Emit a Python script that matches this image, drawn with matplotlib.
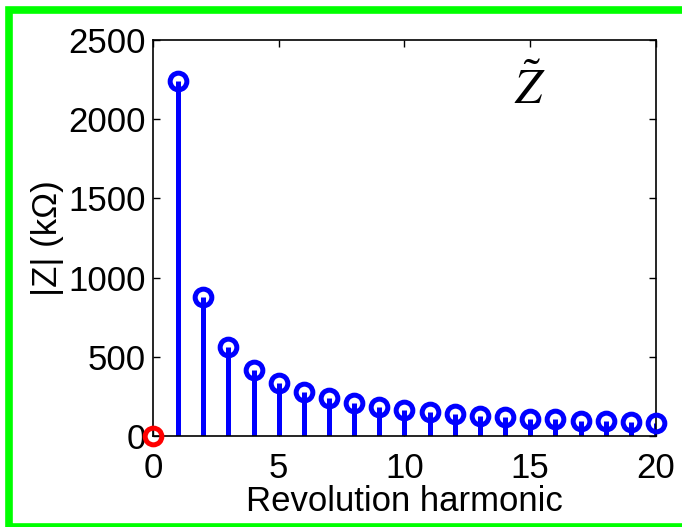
import matplotlib
matplotlib.use('Agg')
import matplotlib.pyplot as plt
from matplotlib.patches import Rectangle

plt.rcParams['font.family'] = ['Liberation Sans', 'DejaVu Sans']
plt.rcParams['mathtext.fontset'] = 'stix'

# harmonic number and impedance magnitude (kOhm)
harmonics = list(range(1, 21))
z_mag = [2242, 875, 562, 416, 332, 275, 237, 206, 185, 164,
         151, 139, 126, 118, 109, 105, 97, 92, 86, 84]
dc_harmonic = [0]
dc_value = [0]

fig = plt.figure(figsize=(6.82, 5.27), dpi=100)
ax = fig.add_axes([0.2243, 0.1727, 0.7375, 0.7514])

# --- stems ---
markerline, stemlines, baseline = ax.stem(harmonics, z_mag, basefmt=' ')
plt.setp(stemlines, color='#0000ff', linewidth=3.6)
plt.setp(markerline, color='#0000ff', marker='o', markersize=12,
         markerfacecolor='none', markeredgewidth=3.6, clip_on=False, zorder=3)
ax.plot(dc_harmonic, dc_value, 'o', color='#ff0000', markersize=12,
        markerfacecolor='none', markeredgewidth=3.6, clip_on=False, zorder=4)

ax.set_xlim(0, 20)
ax.set_ylim(0, 2500)
ax.set_xticks([0, 5, 10, 15, 20])
ax.set_yticks([0, 500, 1000, 1500, 2000, 2500])
ax.tick_params(direction='in', top=True, right=True, length=5, width=1,
               labelsize=25, pad=5)
ax.tick_params(axis='x', pad=11.5)
for s in ax.spines.values():
    s.set_linewidth(1.2)

ax.set_xlabel('Revolution harmonic', fontsize=25, labelpad=0)
ax.set_ylabel('|Z| (k\u03a9)', fontsize=25, labelpad=3)

ax.text(0.7495, 0.839, r'$\tilde{Z}$', transform=ax.transAxes,
        fontsize=35, ha='center', va='baseline')

# green frame around the figure
fig.patches.append(Rectangle((0.0135, 0.0), 0.99, 0.981, transform=fig.transFigure,
                             fill=False, edgecolor='#00ff00', linewidth=5.5))

fig.savefig('out.png', dpi=100)
